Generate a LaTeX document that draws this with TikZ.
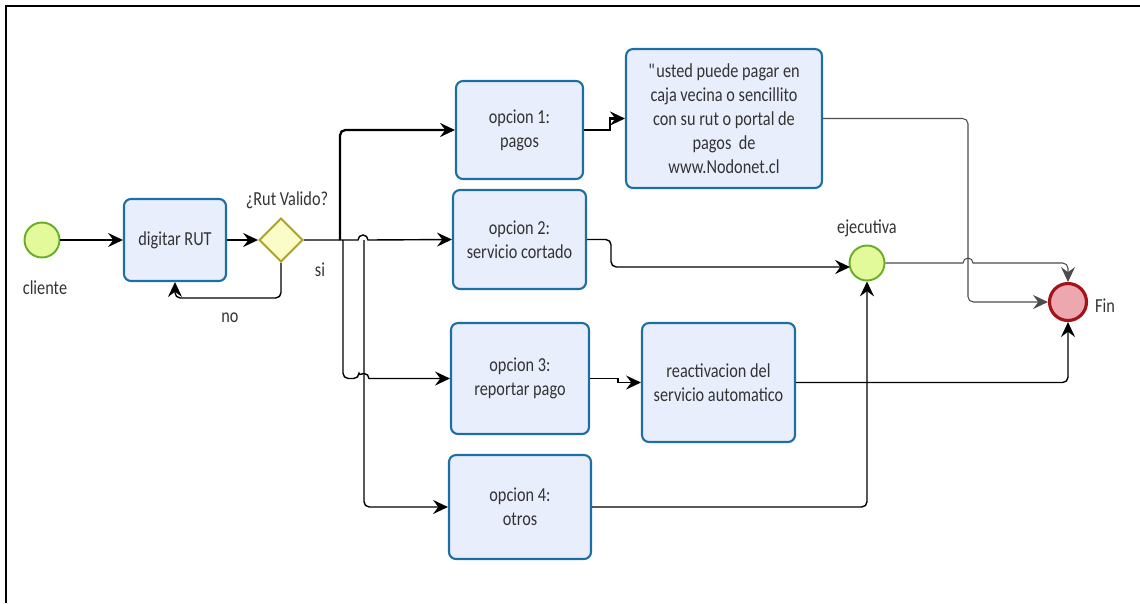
\documentclass[tikz,border=0pt]{standalone}
\usepackage{fontspec}
\setmainfont{Carlito}[FakeStretch=0.82]
\usetikzlibrary{arrows.meta,shapes.geometric}

\definecolor{taskfill}{HTML}{E9EEFC}
\definecolor{taskline}{HTML}{1C6FA3}
\definecolor{startfill}{HTML}{E3FA9A}
\definecolor{startline}{HTML}{68AC2A}
\definecolor{gatefill}{HTML}{FCFCC8}
\definecolor{gateline}{HTML}{A8A42A}
\definecolor{endfill}{HTML}{ECA8AE}
\definecolor{endline}{HTML}{A3141A}
\definecolor{txtgray}{HTML}{333333}

\newcommand{\straightquote}{\XeTeXglyph\XeTeXcharglyph34\relax}

\begin{document}
\begin{tikzpicture}[x=0.02cm, y=-0.02cm,
  every node/.style={font=\fontsize{11.3}{13.6}\selectfont, text=txtgray},
  task/.style={draw=taskline, fill=taskfill, line width=1.2pt, rounded corners=0.14cm, align=center, inner sep=0pt},
  startev/.style={circle, draw=startline, fill=startfill, line width=1.1pt, minimum size=0.70cm, inner sep=0pt},
  endev/.style={circle, draw=endline, fill=endfill, line width=1.8pt, minimum size=0.74cm, inner sep=0pt},
  gateway/.style={diamond, aspect=1, draw=gateline, fill=gatefill, line width=1.1pt, minimum width=0.88cm, minimum height=0.88cm, inner sep=0pt},
  flow/.style={line width=0.8pt, -{Stealth[length=8.5pt, width=8pt, inset=3pt]}},
  bflow/.style={flow, line width=1.3pt},
  tflow/.style={flow, line width=0.6pt, draw=black!70}]

\useasboundingbox (0,0) rectangle (1140,603);

% ============================
% Frame
% ============================
\draw[line width=1.4pt] (6,603) -- (6,6) -- (1140,6);

% ============================
% Events and gateway
% ============================
\node[startev] (cli) at (42,240) {};
\node (lcli) at (45,288) {cliente};

\node[task, minimum width=2.04cm, minimum height=1.64cm] (digit) at (175,240) {digitar RUT};

\node[gateway] (gate) at (281,240) {};
\node (lgate) at (287,200) {¿Rut Valido?};
\node (lsi) at (320,270) {si};
\node (lno) at (230,318) {no};

\node[startev] (ejec) at (867,263) {};
\node (lejec) at (867,228) {ejecutiva};

\node[endev] (fin) at (1068,302) {};
\node (lfin) at (1105,306) {Fin};

% ============================
% Options
% ============================
\node[task, minimum width=2.54cm, minimum height=1.96cm] (op1) at (519.5,130) {opcion 1:\\pagos};
\node[task, minimum width=2.66cm, minimum height=1.98cm] (op2) at (519.5,239.5) {opcion 2:\\servicio cortado};
\node[task, minimum width=2.76cm, minimum height=2.22cm] (op3) at (520,378.5) {opcion 3:\\reportar pago};
\node[task, minimum width=2.84cm, minimum height=2.08cm] (op4) at (520,507) {opcion 4:\\otros};

\node[task, minimum width=3.92cm, minimum height=2.78cm] (usted) at (724,118.5)
  {\straightquote usted puede pagar en\\caja vecina o sencillito\\con su rut o portal de\\pagos\ \ de\\www.Nodonet.cl};
\node[task, minimum width=3.06cm, minimum height=2.38cm] (reac) at (718.5,382.5)
  {reactivacion del\\servicio automatico};

% ============================
% Branch points
% ============================
\coordinate (split1) at (340,240);
\coordinate (split3) at (343,240);
\coordinate (split4) at (364,240);
\coordinate (hop3) at (359,378.5);
\coordinate (ufork) at (968,302);
\coordinate (ejin) at (850,267);

% ============================
% Connectors
% ============================
\draw[flow] (cli) -- (digit);
\draw[flow] (digit) -- (gate);
\draw[flow, rounded corners=3pt] (gate.south) -- (281,298) -| (digit.south);

\draw[flow] (gate.east) -- (358,240) arc[start angle=180, end angle=360, radius=5] -- (op2.west);
\draw[bflow, rounded corners=3pt] (split1) |- (op1.west);
\draw[flow] (split3) [rounded corners=3pt] |- (hop3) [sharp corners] arc[start angle=180, end angle=360, radius=5] -- (op3.west);
\draw[flow, rounded corners=3pt] (split4) |- (op4.west);

\draw[bflow] (op1.east) -- ++(26,0) |- (usted.west);
\draw[flow, rounded corners=3pt] (op2.east) -- ++(24,0) |- (ejin);
\draw[flow] (op3.east) -- ++(28,0) |- (reac.west);
\draw[flow, rounded corners=3pt] (op4.east) -| (ejec.south);

\draw[tflow, rounded corners=3pt] (usted.east) -| (ufork) -- (fin.west);
\draw[tflow] (ejec.east) -- (963,263) arc[start angle=180, end angle=360, radius=5] [rounded corners=3pt] -| (fin.north);
\draw[flow, rounded corners=3pt] (reac.east) -| (fin.south);

\end{tikzpicture}
\end{document}
